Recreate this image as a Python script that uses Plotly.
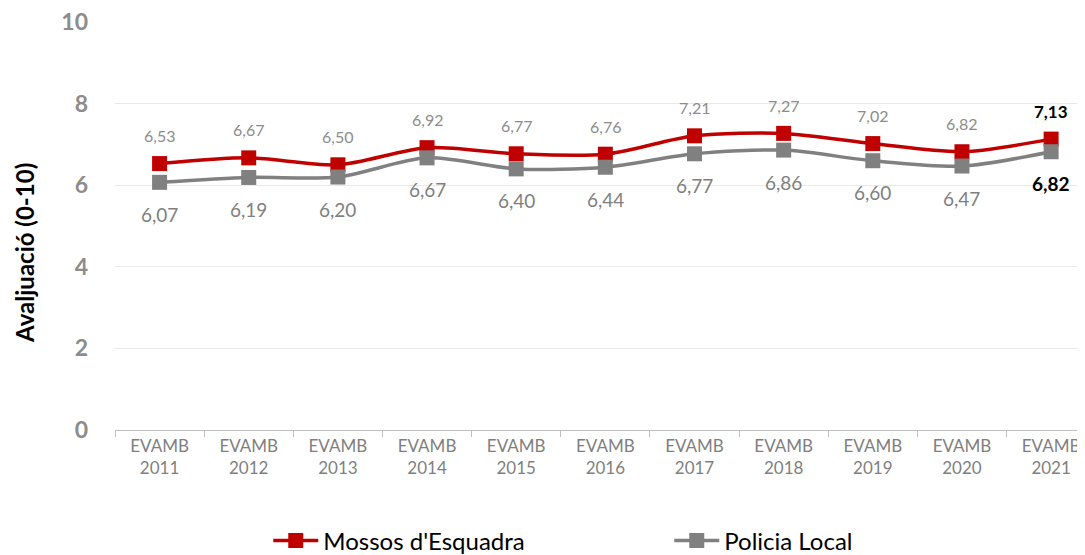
import plotly.graph_objects as go

categories = ["EVAMB<br>2011", "EVAMB<br>2012", "EVAMB<br>2013", "EVAMB<br>2014", "EVAMB<br>2015",
              "EVAMB<br>2016", "EVAMB<br>2017", "EVAMB<br>2018", "EVAMB<br>2019", "EVAMB<br>2020",
              "EVAMB<br>2021"]
mossos = [6.53, 6.67, 6.50, 6.92, 6.77, 6.76, 7.21, 7.27, 7.02, 6.82, 7.13]
policia = [6.07, 6.19, 6.20, 6.67, 6.40, 6.44, 6.77, 6.86, 6.60, 6.47, 6.82]
y_ticks = [0, 2, 4, 6, 8, 10]

RED = "#C00000"
GRAY = "#808080"
FONT = "Lato"

def fmt(v):
    return f"{v:.2f}".replace(".", ",")

fig = go.Figure()
fig.add_trace(go.Scatter(
    x=categories, y=mossos, name="Mossos d'Esquadra", mode="lines+markers",
    line=dict(color=RED, width=3.5, shape="spline", smoothing=0.8),
    marker=dict(symbol="square", size=15, color=RED),
))
fig.add_trace(go.Scatter(
    x=categories, y=policia, name="Policia Local", mode="lines+markers",
    line=dict(color=GRAY, width=3.5, shape="spline", smoothing=0.8),
    marker=dict(symbol="square", size=15, color=GRAY),
))

annotations = []
n = len(categories)
for i, (c, m, p) in enumerate(zip(categories, mossos, policia)):
    last = i == n - 1
    if last:
        annotations.append(dict(x=c, y=m, xref="x", yref="y", text="<b>%s</b>" % fmt(m),
                                showarrow=False, yshift=28, font=dict(family=FONT, size=17, color="#000000")))
        annotations.append(dict(x=c, y=p, xref="x", yref="y", text="<b>%s</b>" % fmt(p),
                                showarrow=False, yshift=-32, font=dict(family=FONT, size=19, color="#000000")))
    else:
        annotations.append(dict(x=c, y=m, xref="x", yref="y", text=fmt(m),
                                showarrow=False, yshift=28, font=dict(family=FONT, size=16, color="#8c8c8c")))
        annotations.append(dict(x=c, y=p, xref="x", yref="y", text=fmt(p),
                                showarrow=False, yshift=-32, font=dict(family=FONT, size=19, color="#7f7f7f")))

# y-axis title, placed as a rotated text at the left edge
annotations.append(dict(x=0, y=0.434, xref="paper", yref="paper", xshift=-90, textangle=-90,
                        xanchor="center", yanchor="middle",
                        text="<b>Avaljuació (0-10)</b>", showarrow=False,
                        font=dict(family=FONT, size=24, color="#000000")))

fig.update_layout(
    width=1077, height=547,
    margin=dict(l=107, r=0, t=14, b=125, autoexpand=False),
    plot_bgcolor="white", paper_bgcolor="white",
    font=dict(family=FONT),
    showlegend=True,
    legend=dict(orientation="h", x=0.158, xanchor="left", y=-0.272, yanchor="middle",
                font=dict(family=FONT, size=24, color="#000000"), entrywidth=341, itemwidth=45),
    annotations=annotations,
)
fig.update_xaxes(
    range=[-0.5, 10.38], tickson="boundaries", ticks="outside", ticklen=6, tickcolor="#bfbfbf",
    showline=True, linecolor="#bfbfbf", linewidth=1.3, showgrid=False, automargin=False,
    tickfont=dict(family=FONT, size=17, color="#7f7f7f"), ticklabeloverflow="allow",
)
fig.update_yaxes(
    range=[0, 10], tickvals=y_ticks, showgrid=True, gridcolor="#e9e9e9", gridwidth=1.3,
    zeroline=False, showline=False, automargin=False, ticklabeloverflow="allow",
    tickfont=dict(family=FONT, size=23, color="#8c8c8c", weight="bold"), ticklabelstandoff=26,
)

fig.write_html("out.html")
